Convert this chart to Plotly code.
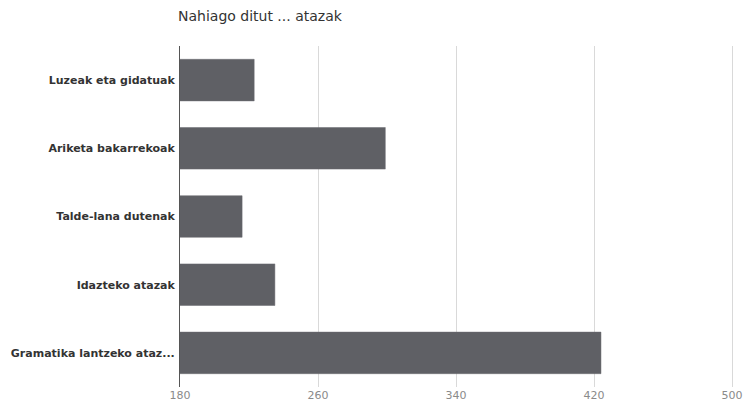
import plotly.graph_objects as go

categories = ["Luzeak eta gidatuak", "Ariketa bakarrekoak", "Talde-lana dutenak",
              "Idazteko atazak", "Gramatika lantzeko ataz..."]
values = [223, 299, 216, 235, 424]
x_ticks = [180, 260, 340, 420, 500]

W, H = 746, 412

fig = go.Figure(go.Bar(
    y=categories, x=values, orientation="h",
    base=0,
    marker=dict(color="#5f6065", line=dict(color="#6a6b70", width=0.5)),
))

fig.update_layout(
    width=W, height=H,
    margin=dict(l=180, r=7, t=46, b=25, autoexpand=False),
    paper_bgcolor="white", plot_bgcolor="white",
    bargap=0.39,
    showlegend=False,
    title=dict(text="Nahiago ditut ... atazak", x=178/W, xanchor="left",
               y=1 - 16/H, yanchor="middle",
               font=dict(family="DejaVu Sans, sans-serif", size=14, color="#333333")),
    xaxis=dict(range=[180, 504], tickvals=x_ticks, showgrid=True, gridcolor="#d9d9d9",
               gridwidth=1, zeroline=False, showline=False, ticks="", automargin=False,
               tickfont=dict(family="DejaVu Sans, sans-serif", size=11, color="#8a8a8a")),
    yaxis=dict(categoryorder="array", categoryarray=categories[::-1], autorange=True,
               showline=True, linecolor="#555555", linewidth=1, ticks="", showgrid=False,
               automargin=False,
               tickfont=dict(family="DejaVu Sans, sans-serif", size=11,
                             color="#333333", weight="bold"),
               ticklabelstandoff=2),
)

fig.write_html(
    "out.html",
    config={"displayModeBar": False},
    post_script="document.body.style.margin='0';document.body.style.overflow='hidden';",
)
